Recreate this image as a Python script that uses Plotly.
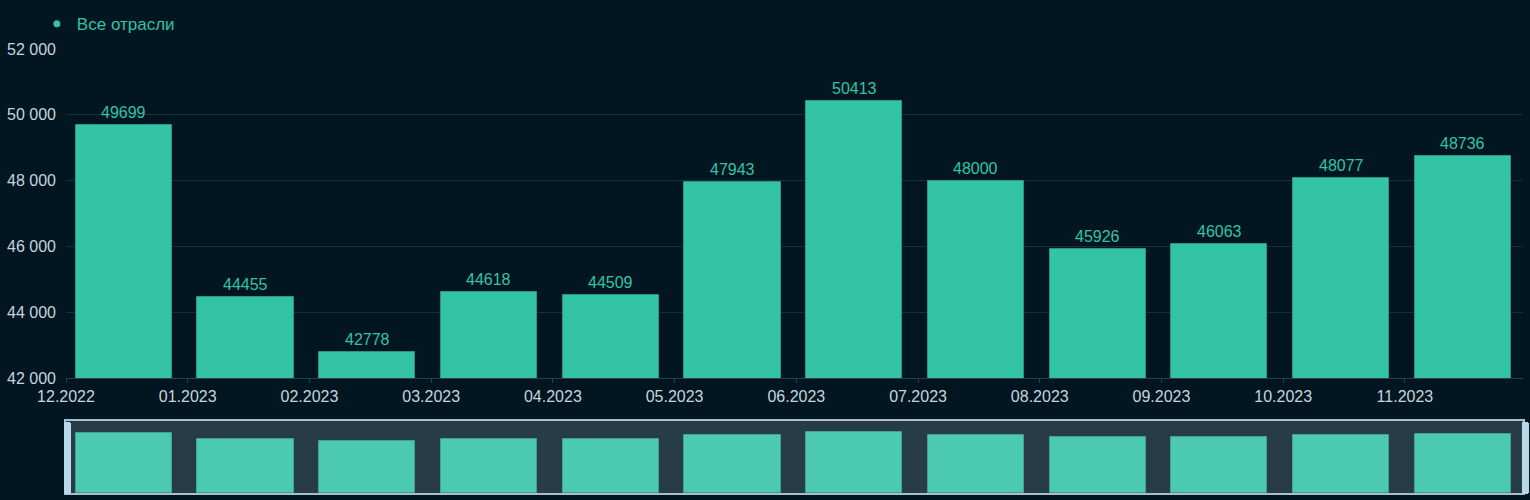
import plotly.graph_objects as go

# monthly values, all industries
months = ['12.2022', '01.2023', '02.2023', '03.2023', '04.2023', '05.2023',
          '06.2023', '07.2023', '08.2023', '09.2023', '10.2023', '11.2023']
values = [49699, 44455, 42778, 44618, 44509, 47943,
          50413, 48000, 45926, 46063, 48077, 48736]
series_name = 'Все отрасли'

bg = '#011620'
teal = '#33c3a7'
tick_color = '#c5d5df'
grid_color = '#1b2d39'

idx = list(range(len(months)))
bar_offset = 0.08
bar_width = 0.79

fig = go.Figure()
fig.add_trace(go.Bar(x=idx, y=values, name=series_name,
                     offset=bar_offset, width=bar_width,
                     marker=dict(color=teal, line=dict(color='#2a9585', width=1)),
                     showlegend=False))
# dot marker for the legend entry
fig.add_trace(go.Scatter(x=[None], y=[None], mode='markers', name=series_name,
                         marker=dict(color=teal, size=7, symbol='circle')))

# value labels as annotations so they stay out of the range slider
for i, v in zip(idx, values):
    fig.add_annotation(x=i + bar_offset + bar_width / 2, y=v, text=str(v),
                       showarrow=False, yanchor='bottom', yshift=2,
                       font=dict(color=teal, size=16))

fig.update_layout(
    width=1530, height=500,
    paper_bgcolor=bg, plot_bgcolor=bg,
    font=dict(family='Arial, Liberation Sans, sans-serif', size=16, color=tick_color),
    separators='. ',
    margin=dict(l=66, r=7, t=49, b=6),
    bargap=0,
    showlegend=True,
    legend=dict(x=-0.020, y=1.021, xanchor='left', yanchor='bottom',
                orientation='h', bgcolor='rgba(0,0,0,0)',
                font=dict(color=teal, size=17)),
    xaxis=dict(range=[0, 11.97], tickmode='array', tickvals=idx, ticktext=months,
               showgrid=False, showline=True, linecolor='#2a3c4a', linewidth=1,
               ticks='outside', ticklen=4, tickcolor='#2a3c4a',
               tickfont=dict(color=tick_color, size=16), zeroline=False,
               rangeslider=dict(visible=True, range=[0, 11.97], thickness=0.162,
                                bgcolor='#0b212f', bordercolor='#a9bfcc',
                                borderwidth=2,
                                yaxis=dict(rangemode='fixed', range=[0, 59400]))),
    yaxis=dict(range=[42000, 52000], dtick=2000, tickformat=',d',
               gridcolor=grid_color, gridwidth=1, zeroline=False,
               tickfont=dict(color=tick_color, size=16), ticklabelstandoff=9),
)

# page tweaks: no body margin, lighter slider box, no y masks, wide handles
css = ('.rangeslider-mask-min-opp-axis,.rangeslider-mask-max-opp-axis'
       '{display:none!important}'
       '.rangeslider-slidebox{fill:rgba(255,255,255,0.12)!important;'
       'y:0px!important;height:72px!important}'
       '.rangeslider-handle-min,.rangeslider-handle-max{fill:#b8d8ea!important;'
       'stroke:none!important;y:0px!important;height:72px!important;width:7px!important}')
post = ("document.body.style.margin='0';"
        "var s=document.createElement('style');s.textContent='" + css + "';"
        "document.head.appendChild(s);")

fig.write_html('out.html', post_script=post, config={'displayModeBar': False})
